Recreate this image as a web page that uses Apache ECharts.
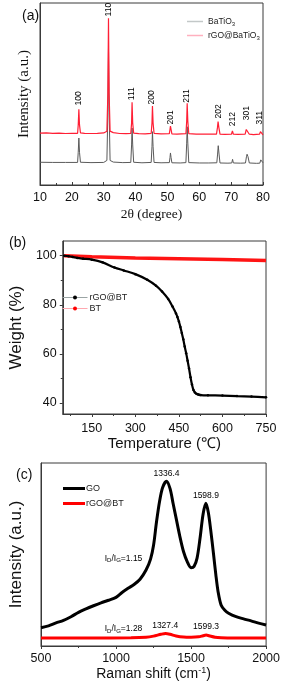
<!DOCTYPE html>
<html><head><meta charset="utf-8">
<script src="https://cdn.jsdelivr.net/npm/echarts@6/dist/echarts.min.js"></script>
<style>html,body{margin:0;padding:0;background:#fff}#c{width:283px;height:684px}</style>
</head><body><div id="c"></div>
<script>
const SANS = "'Liberation Sans', Arial, sans-serif";
const SERIF = "'Liberation Serif', 'Times New Roman', serif";
const AX = '#3a3a3a';

// ---------- (a) XRD ----------
const xrdTicks = [10, 20, 30, 40, 50, 60, 70, 80];
const xrdBaTiO3 = [[10,12.5],[14,12.4],[18,12.4],[21.8,12.4],[22.0,18],[22.2,25.8],[22.4,18],[22.7,12.5],[26,12.3],[30,12.4],[31.0,13.5],[31.3,40],[31.5,75],[31.7,40],[32.0,13.5],[33,12.6],[36,12.3],[38.5,12.4],[38.75,22],[38.9,31.3],[39.1,22],[39.4,12.5],[42,12.2],[44.9,12.4],[45.15,21],[45.3,29.3],[45.5,21],[45.8,12.4],[48,12.2],[50.6,12.3],[50.8,15],[50.95,17.6],[51.15,15],[51.4,12.2],[54,12.1],[55.8,12.3],[56.05,23],[56.2,32],[56.4,23],[56.7,12.3],[60,12.1],[63,12.1],[65.5,12.2],[65.75,17],[65.95,21.6],[66.2,17],[66.5,12.1],[69,12.0],[70.2,12.1],[70.45,14.1],[70.7,12.1],[73,12.0],[74.5,12.1],[74.8,15.5],[75.0,16.9],[75.3,15.5],[75.7,12.1],[78,11.9],[79.0,12.0],[79.3,13.8],[79.5,14.3],[79.8,13],[80,12.2]];
const xrdRGO = [[10,28.5],[12,28.6],[14,28.4],[16,28.5],[18,28.3],[20,28.4],[21.8,28.4],[22.0,33],[22.2,41.6],[22.4,33],[22.7,28.6],[24,28.4],[26,28.3],[28,28.4],[30,28.6],[31.0,29.5],[31.3,50],[31.5,91.6],[31.7,50],[32.0,29.6],[33,28.8],[35,28.3],[37,28.2],[38.5,28.4],[38.75,34],[38.9,45.4],[39.1,34],[39.4,28.5],[41,28.2],[43,28.1],[44.9,28.4],[45.15,34],[45.3,43.4],[45.5,34],[45.8,28.4],[48,28.1],[50.6,28.2],[50.8,30.5],[50.95,32.4],[51.15,30.5],[51.4,28.1],[53,28.0],[55.8,28.2],[56.05,35],[56.2,44.9],[56.4,35],[56.7,28.2],[59,27.9],[62,27.9],[65.4,28.0],[65.7,31.5],[65.9,34.8],[66.15,31.5],[66.5,28.0],[68,27.8],[70.1,27.9],[70.4,29.7],[70.7,27.9],[72,27.8],[74.4,28.0],[74.75,30.5],[75.0,31.5],[75.3,30.5],[75.7,27.9],[77,27.7],[78.9,27.9],[79.2,29.3],[79.4,29.7],[79.7,28.6],[80,27.6]];
const xrdPeakNames = ['100','110','111','200','201','211','202','212','301','311'];
const xrdPeakLabelX = [22.2, 31.6, 38.9, 45.2, 51.0, 56.1, 66.0, 70.5, 74.9, 78.9];
const xrdPeakLabelY = [42.9, 91.8, 45.8, 43.4, 32.4, 44.3, 35.7, 31.5, 34.8, 32.4];

// ---------- (b) TGA ----------
const tgaTempRGO = [55,70,84,100,120,150,187,228,260,300,341,371,392,413,428,440,445,450,455,460,465,470,475,480,485,490,495,500,505,510,515,520,525,550,600,650,700,750];
const tgaWeightRGO = [100,99.8,99.5,99.1,98.8,98.4,97.3,95.2,94.0,92.5,90.2,87.8,85.4,82.4,79.3,76.5,75.0,73.2,71.0,68.5,66.0,63.0,60.3,57.2,54.0,50.5,47.5,45.3,44.3,43.8,43.5,43.3,43.2,43.1,43.0,42.8,42.6,42.3];
const tgaTempBT = [55,150,300,450,600,750];
const tgaWeightBT = [100,99.6,99.1,98.8,98.5,98.1];
const tgaXLabels = [150,300,450,600,750];
const tgaXMinor = [75,225,375,525,675];
const tgaYLabels = [40,60,80,100];
const tgaYMinor = [50,70,90];

// ---------- (c) Raman ----------
const ramanGO = [[500,10],[550,11],[600,12.6],[650,14],[700,16],[750,18.4],[800,20.3],[850,22],[900,23.6],[950,25],[1000,26.6],[1040,29.2],[1080,31.5],[1120,33.6],[1160,36.5],[1200,41.5],[1230,47.5],[1250,55],[1270,68],[1290,79],[1310,86.5],[1336,90],[1360,86],[1380,78],[1400,70],[1425,60],[1450,51.5],[1475,46],[1500,42.8],[1520,43.5],[1540,48],[1560,59],[1580,72],[1599,78],[1615,73],[1630,64],[1650,50],[1665,39],[1680,29.7],[1700,22.4],[1725,19.5],[1750,17.9],[1800,16],[1850,14.8],[1900,13.7],[1950,12.5],[2000,11.5]];
const ramanRGO = [[500,4.4],[800,4.4],[1100,4.5],[1200,4.8],[1250,5.4],[1300,6.4],[1330,6.8],[1360,6.4],[1400,5.5],[1450,4.9],[1500,4.8],[1550,5.0],[1580,5.6],[1600,6.0],[1620,5.6],[1660,4.8],[1700,4.5],[1800,4.4],[2000,4.4]];
const ramanTicks = [500, 1000, 1500, 2000];
const ramanPeakText = ['1336.4','1598.9','1327.4','1599.3'];
const ramanPeakX = [1336.4, 1598.9, 1327.4, 1599.3];
const ramanPeakY = [90, 78, 6.8, 6.0];
const ramanRatioText = ['1.15','1.28'];
const ramanRatioX = [1050, 1050];
const ramanRatioY = [48, 9.3];

const chart = echarts.init(document.getElementById('c'), null, {renderer: 'canvas'});

const gridBase = {show: true, borderColor: AX, borderWidth: 1, backgroundColor: 'transparent', containLabel: false};
const tickLbl = {color: '#111', fontFamily: SANS, fontSize: 12.5, formatter: v => String(v)};

const option = {
  animation: false,
  backgroundColor: '#fff',
  title: [
    {text: '(a)', left: 17, top: 4, textStyle: {fontFamily: SANS, fontSize: 14, fontWeight: 'normal', color: '#111'}},
    {text: '(b)', left: 4, top: 231, textStyle: {fontFamily: SANS, fontSize: 14, fontWeight: 'normal', color: '#111'}},
    {text: '(c)', left: 11, top: 463, textStyle: {fontFamily: SANS, fontSize: 14, fontWeight: 'normal', color: '#111'}}
  ],
  grid: [
    Object.assign({left: 40, top: 3, width: 223, height: 182}, gridBase),
    Object.assign({left: 39, top: 241, width: 227, height: 173}, gridBase),
    Object.assign({left: 39, top: 463, width: 229, height: 183}, gridBase)
  ],
  xAxis: [
    {type: 'value', gridIndex: 0, min: 10, max: 80, interval: 10, position: 'bottom',
     axisLine: {lineStyle: {color: AX}}, axisTick: {inside: true, length: 3, lineStyle: {color: AX}},
     minorTick: {show: true, splitNumber: 2, length: 2, lineStyle: {color: AX}},
     splitLine: {show: false}, axisLabel: Object.assign({margin: 6}, tickLbl),
     name: '2θ (degree)', nameLocation: 'middle', nameGap: 22,
     nameTextStyle: {fontFamily: SERIF, fontSize: 13.5, color: '#111'}},
    {type: 'value', gridIndex: 1, min: 50, max: 750, position: 'bottom',
     axisLine: {lineStyle: {color: AX}}, axisTick: {length: 3, customValues: tgaXLabels, lineStyle: {color: AX}},
     splitLine: {show: false}, axisLabel: Object.assign({margin: 8, customValues: tgaXLabels}, tickLbl),
     name: 'Temperature (℃)', nameLocation: 'middle', nameGap: 21,
     nameTextStyle: {fontFamily: SANS, fontSize: 15, color: '#111'}},
    {type: 'value', gridIndex: 2, min: 500, max: 2000, interval: 500, position: 'bottom',
     axisLine: {lineStyle: {color: AX}}, axisTick: {length: 3, lineStyle: {color: AX}},
     minorTick: {show: true, splitNumber: 2, length: 2, lineStyle: {color: AX}},
     splitLine: {show: false}, axisLabel: Object.assign({margin: 6}, tickLbl),
     name: 'Raman shift (cm{sup|-1})', nameLocation: 'middle', nameGap: 20,
     nameTextStyle: {fontFamily: SANS, fontSize: 14, color: '#111',
       rich: {sup: {fontFamily: SANS, fontSize: 9, color: '#111', padding: [0, 0, 8, 0]}}}},
    {type: 'value', gridIndex: 1, min: 50, max: 750, position: 'bottom', offset: 0,
     axisLine: {show: false}, axisTick: {length: 2, customValues: tgaXMinor, lineStyle: {color: AX}},
     axisLabel: {show: false, customValues: tgaXMinor}, splitLine: {show: false}}
  ],
  yAxis: [
    {type: 'value', gridIndex: 0, min: 0, max: 100, position: 'left',
     axisLine: {show: true, lineStyle: {color: AX}}, axisTick: {show: false}, axisLabel: {show: false}, splitLine: {show: false},
     name: 'Intensity (a.u.)', nameLocation: 'middle', nameGap: 8,
     nameTextStyle: {fontFamily: SERIF, fontSize: 15, color: '#111'}},
    {type: 'value', gridIndex: 1, min: 35.5, max: 106, position: 'left',
     axisLine: {show: true, lineStyle: {color: AX}}, axisTick: {length: 3, customValues: tgaYLabels, lineStyle: {color: AX}},
     axisLabel: Object.assign({margin: 6, customValues: tgaYLabels}, tickLbl), splitLine: {show: false},
     name: 'Weight (%)', nameLocation: 'middle', nameGap: 21,
     nameTextStyle: {fontFamily: SANS, fontSize: 17, color: '#111'}},
    {type: 'value', gridIndex: 2, min: 0, max: 100, position: 'left',
     axisLine: {show: true, lineStyle: {color: AX}}, axisTick: {show: false}, axisLabel: {show: false}, splitLine: {show: false},
     name: 'Intensity (a.u.)', nameLocation: 'middle', nameGap: 16,
     nameTextStyle: {fontFamily: SANS, fontSize: 17, color: '#111'}},
    {type: 'value', gridIndex: 1, min: 35.5, max: 106, position: 'left', offset: 0,
     axisLine: {show: false}, axisTick: {length: 2, customValues: tgaYMinor, lineStyle: {color: AX}},
     axisLabel: {show: false, customValues: tgaYMinor}, splitLine: {show: false}}
  ],
  legend: [
    {left: 182, top: 12, orient: 'vertical', icon: 'rect', itemWidth: 16, itemHeight: 1.5, itemGap: 4,
     data: [{name: 'BaTiO3', itemStyle: {color: '#c3c8c8'}}, {name: 'rGO@BaTiO3', itemStyle: {color: '#ffb0bf'}}],
     formatter: n => n === 'BaTiO3' ? '{t|BaTiO}{s|3}' : '{t|rGO@BaTiO}{s|3}',
     textStyle: {rich: {t: {fontFamily: SANS, fontSize: 8.5, color: '#222'}, s: {fontFamily: SANS, fontSize: 6, color: '#222', padding: [5, 0, 0, 0]}}}},
    {left: 57, top: 288, orient: 'vertical', itemWidth: 25, itemHeight: 5, itemGap: 2,
     data: [{name: 'TGA rGO@BT', itemStyle: {color: '#000'}, lineStyle: {color: '#9aa4a4', width: 1}},
            {name: 'TGA BT', itemStyle: {color: '#f00'}, lineStyle: {color: '#ffa8b0', width: 1}}],
     formatter: n => n.replace('TGA ', ''),
     textStyle: {fontFamily: SANS, fontSize: 9, color: '#222', padding: [0, 0, 0, -3]}},
    {left: 58, top: 479, orient: 'vertical', icon: 'rect', itemWidth: 22, itemHeight: 3, itemGap: 6,
     data: [{name: 'GO', itemStyle: {color: '#000'}}, {name: 'Raman rGO@BT', itemStyle: {color: '#f00'}}],
     formatter: n => n.replace('Raman ', ''),
     textStyle: {fontFamily: SANS, fontSize: 9, color: '#222', padding: [0, 0, 0, -4]}}
  ],
  series: [
    {name: 'BaTiO3', type: 'line', xAxisIndex: 0, yAxisIndex: 0, data: xrdBaTiO3, showSymbol: false,
     lineStyle: {color: '#5a5a5a', width: 1}, itemStyle: {color: '#5a5a5a'}},
    {name: 'rGO@BaTiO3', type: 'line', xAxisIndex: 0, yAxisIndex: 0, data: xrdRGO, showSymbol: false,
     lineStyle: {color: '#ff1f35', width: 1.2}, itemStyle: {color: '#ff1f35'}},
    {name: 'xrd-labels', type: 'scatter', xAxisIndex: 0, yAxisIndex: 0, symbolSize: 1, itemStyle: {color: 'rgba(0,0,0,0)'},
     silent: true,
     data: xrdPeakNames.map((n, i) => ({name: n, value: [xrdPeakLabelX[i], xrdPeakLabelY[i]]})),
     label: {show: true, formatter: '{b}', position: 'top', distance: 1, rotate: 90, align: 'left', verticalAlign: 'middle',
             fontFamily: SANS, fontSize: 8.5, color: '#000', opacity: 1}},
    {name: 'TGA BT', type: 'line', xAxisIndex: 1, yAxisIndex: 1, data: tgaTempBT.map((t, i) => [t, tgaWeightBT[i]]),
     showSymbol: false, symbol: 'circle', symbolSize: 4, lineStyle: {color: '#ff1414', width: 3.5}, itemStyle: {color: '#ff1414'}},
    {name: 'TGA rGO@BT', type: 'line', xAxisIndex: 1, yAxisIndex: 1, data: tgaTempRGO.map((t, i) => [t, tgaWeightRGO[i]]),
     smooth: 0.3, symbol: 'circle', symbolSize: 2.5, showSymbol: true, lineStyle: {color: '#000', width: 2.2}, itemStyle: {color: '#000'}},
    {name: 'GO', type: 'line', xAxisIndex: 2, yAxisIndex: 2, data: ramanGO, showSymbol: false, smooth: 0.3,
     lineStyle: {color: '#000', width: 3}, itemStyle: {color: '#000'}},
    {name: 'Raman rGO@BT', type: 'line', xAxisIndex: 2, yAxisIndex: 2, data: ramanRGO, showSymbol: false, smooth: 0.3,
     lineStyle: {color: '#ff0000', width: 3}, itemStyle: {color: '#ff0000'}},
    {name: 'raman-labels', type: 'scatter', xAxisIndex: 2, yAxisIndex: 2, symbolSize: 1, itemStyle: {color: 'rgba(0,0,0,0)'},
     silent: true,
     data: ramanPeakText.map((t, i) => ({name: t, value: [ramanPeakX[i], ramanPeakY[i]]})).concat(
       ramanRatioText.map((t, i) => ({name: '{i|I}{s|D}{i|/I}{s|G}{i|=' + t + '}', value: [ramanRatioX[i], ramanRatioY[i]],
         label: {position: 'inside'}}))),
     label: {show: true, formatter: '{b}', position: 'top', distance: 3, fontFamily: SANS, fontSize: 8.5, color: '#000', opacity: 1,
       rich: {i: {fontFamily: SANS, fontSize: 8.5, color: '#000'}, s: {fontFamily: SANS, fontSize: 6, color: '#000', padding: [5, 0, 0, 0]}}}}
  ]
};
chart.setOption(option);
</script></body></html>
